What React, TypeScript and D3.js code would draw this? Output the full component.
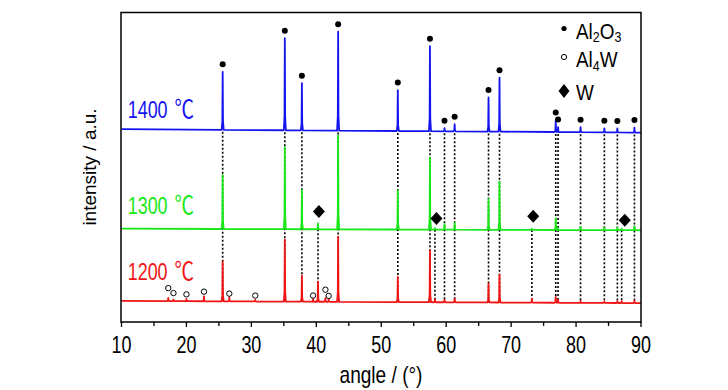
import * as d3 from "d3";

// XRD patterns: [angle (°), peak height above baseline (a.u.)]
const pattern1400: [number, number][] = [
  [25.58, 18.7], [35.15, 29.7], [37.78, 15.2], [43.36, 31.9], [52.55, 13.2],
  [57.5, 27.4], [59.74, 1.0], [61.3, 2.3], [66.52, 11.0], [68.21, 17.4],
  [76.87, 3.9], [77.23, 1.6], [80.69, 1.6], [84.36, 1.3], [86.36, 1.3], [88.99, 1.6],
];
const pattern1300: [number, number][] = [
  [25.58, 17.4], [35.15, 26.5], [37.78, 12.6], [40.26, 1.9], [43.36, 30.3],
  [52.55, 12.6], [57.5, 23.2], [58.27, 0.5], [59.74, 1.8], [61.3, 2.2],
  [66.52, 10.0], [68.21, 15.5], [73.19, 0.4], [76.87, 3.8], [77.23, 0.7],
  [80.69, 1.0], [84.36, 0.8], [86.36, 0.8], [87.02, 0.5], [88.99, 1.3],
];
const pattern1200: [number, number][] = [
  [17.2, 1.0], [18.0, 0.5], [20.0, 0.7], [22.7, 1.6], [25.58, 12.9],
  [26.6, 1.3], [30.6, 0.5], [35.15, 20.0], [37.78, 8.4], [39.5, 0.8],
  [40.26, 6.5], [41.4, 1.2], [41.9, 0.8], [43.36, 21.0], [52.55, 8.1],
  [57.5, 16.8], [58.27, 1.0], [59.74, 0.8], [61.3, 1.3], [66.52, 6.1],
  [68.21, 9.0], [73.19, 1.3], [76.87, 1.9], [77.23, 1.0], [80.69, 0.6],
  [84.36, 0.5], [86.36, 0.6], [87.02, 0.6], [88.99, 0.8],
];

// baseline level of each stacked pattern at 10° and 90°
const base1400: [number, number] = [62.2, 61.1];
const base1300: [number, number] = [30.1, 29.6];
const base1200: [number, number] = [6.8, 6.1];

// phase reference positions
const al2o3Lines = [25.58, 35.15, 37.78, 43.36, 52.55, 57.5, 59.74, 61.3, 66.52, 68.21, 76.87, 77.23, 80.69, 84.36, 86.36, 88.99];
const wLines = [40.26, 58.27, 73.19, 87.02];
// markers: [angle, level above the pattern baseline]
const al4wMarks: [number, number][] = [
  [17.2, 4.2], [18.0, 2.6], [20.0, 2.2], [22.7, 3.1], [26.6, 2.5],
  [30.6, 1.9], [39.5, 2.0], [41.4, 3.9], [41.9, 1.9],
];
const wMarks: [number, number][] = [[40.4, 5.7], [58.5, 3.6], [73.4, 4.4], [87.5, 3.2]];

const xTicks = [10, 20, 30, 40, 50, 60, 70, 80, 90];
const xMinor = [15, 25, 35, 45, 55, 65, 75, 85];
const labels = ["1400 ℃", "1300 ℃", "1200 ℃"];

const W = 728;
const H = 390;
const margin = { left: 121, right: 641, top: 12.5, bottom: 322 };
const FONT = "'Liberation Sans', Arial, sans-serif";

const x = d3.scaleLinear().domain([10, 90]).range([121.5, margin.right]);
const y = d3.scaleLinear().domain([0, 100]).range([margin.bottom, margin.bottom - 310]);

const baseFn = (b: [number, number]) => d3.scaleLinear().domain([10, 90]).range(b);

const line = d3
  .line<[number, number]>()
  .x((d) => x(d[0]))
  .y((d) => y(d[1]));

function spectrum(peaks: [number, number][], b: [number, number]) {
  const at = baseFn(b);
  const pts: [number, number][] = [[10, at(10)]];
  const sorted = [...peaks].sort((p, q) => p[0] - q[0]);
  for (const [a, h] of sorted) {
    pts.push(
      [a - 0.16, at(a - 0.16)],
      [a - 0.05, at(a) + h * 0.15],
      [a, at(a) + h],
      [a + 0.05, at(a) + h * 0.15],
      [a + 0.16, at(a + 0.16)],
    );
  }
  pts.push([90, at(90)]);
  return line(pts) as string;
}

const series = [
  { peaks: pattern1400, base: base1400, color: "#1414f0", label: labels[0], ly: 118 },
  { peaks: pattern1300, base: base1300, color: "#18e818", label: labels[1], ly: 213.5 },
  { peaks: pattern1200, base: base1200, color: "#f01414", label: labels[2], ly: 279.5 },
];

const diamond = (cx: number, cy: number, w: number, h: number) =>
  `M${cx},${cy - h / 2}L${cx + w / 2},${cy}L${cx},${cy + h / 2}L${cx - w / 2},${cy}Z`;

export default function App() {
  const b1400 = baseFn(base1400);
  const b1300 = baseFn(base1300);
  const b1200 = baseFn(base1200);
  const topOf = (a: number) => {
    const p = pattern1400.find((d) => d[0] === a);
    return y(b1400(a) + (p ? p[1] : 0));
  };

  return (
    <svg
      width={W}
      height={H}
      style={{ position: "absolute", left: 0, top: 0, background: "#fff" }}
      fontFamily={FONT}
    >
      {/* dotted guide lines */}
      <g stroke="#000" strokeWidth={1.6} strokeDasharray="2,2">
        {al2o3Lines.map((a) => (
          <line key={"a" + a} x1={x(a)} x2={x(a)} y1={y(b1400(a)) + 2} y2={y(b1200(a))} />
        ))}
        {wLines.map((a) => (
          <line key={"w" + a} x1={x(a)} x2={x(a)} y1={y(b1300(a))} y2={y(b1200(a))} />
        ))}
      </g>

      {/* patterns */}
      {series
        .slice()
        .reverse()
        .map((s) => (
          <path key={s.label} d={spectrum(s.peaks, s.base)} fill="none" stroke={s.color} strokeWidth={1.8} strokeLinejoin="round" />
        ))}

      {/* Al2O3 markers */}
      {al2o3Lines.map((a) => (
        <circle key={"d" + a} cx={x(a)} cy={topOf(a) - 7.5} r={3} fill="#000" />
      ))}
      {/* Al4W markers */}
      {al4wMarks.map(([a, v]) => (
        <circle key={"c" + a} cx={x(a)} cy={y(b1200(a) + v)} r={2.7} fill="none" stroke="#000" strokeWidth={1} />
      ))}
      {/* W markers */}
      {wMarks.map(([a, v]) => (
        <path key={"m" + a} d={diamond(x(a), y(b1300(a) + v), 12, 13)} fill="#000" />
      ))}

      {/* temperature labels */}
      {series.map((s) => (
        <text key={"l" + s.label} transform={`translate(127.7,${s.ly}) scale(0.78,1)`} fontSize={23} fill={s.color}>
          {s.label.split(" ")[0]}
          <tspan dx={9} fontSize={25} fontFamily="'Noto Sans CJK SC', 'DejaVu Sans', sans-serif">
            {s.label.split(" ")[1]}
          </tspan>
        </text>
      ))}

      {/* legend */}
      <circle cx={564} cy={28.5} r={2.6} fill="#000" />
      <circle cx={564} cy={57} r={2.6} fill="none" stroke="#000" strokeWidth={1} />
      <path d={diamond(564, 91, 11, 14)} fill="#000" />
      <g fontSize={22} fill="#000">
        <text transform="translate(576,38.5) scale(0.86,1)">
          Al<tspan fontSize={14.5} dy={3.5}>2</tspan>
          <tspan dy={-3.5}>O</tspan>
          <tspan fontSize={14.5} dy={3.5}>3</tspan>
        </text>
        <text transform="translate(576,67) scale(0.86,1)">
          Al<tspan fontSize={14.5} dy={3.5}>4</tspan>
          <tspan dy={-3.5}>W</tspan>
        </text>
        <text transform="translate(576,100) scale(0.86,1)">W</text>
      </g>

      {/* frame and axis */}
      <rect
        x={margin.left}
        y={margin.top}
        width={margin.right - margin.left}
        height={margin.bottom - margin.top}
        fill="none"
        stroke="#000"
        strokeWidth={1.5}
      />
      <g stroke="#000" strokeWidth={1.3}>
        {xTicks.map((t) => (
          <line key={"t" + t} x1={x(t)} x2={x(t)} y1={margin.bottom} y2={margin.bottom + 5} />
        ))}
        {xMinor.map((t) => (
          <line key={"n" + t} x1={x(t)} x2={x(t)} y1={margin.bottom} y2={margin.bottom + 4} />
        ))}
      </g>
      {xTicks.map((t) => (
        <text key={"tl" + t} transform={`translate(${x(t)},352.5) scale(0.78,1)`} fontSize={23} textAnchor="middle">
          {t}
        </text>
      ))}
      <text transform={`translate(${(margin.left + margin.right) / 2},383) scale(0.83,1)`} fontSize={23} textAnchor="middle">
        angle / (°)
      </text>
      <text transform="translate(96,167) rotate(-90)" fontSize={19} textAnchor="middle">
        intensity / a.u.
      </text>
    </svg>
  );
}
